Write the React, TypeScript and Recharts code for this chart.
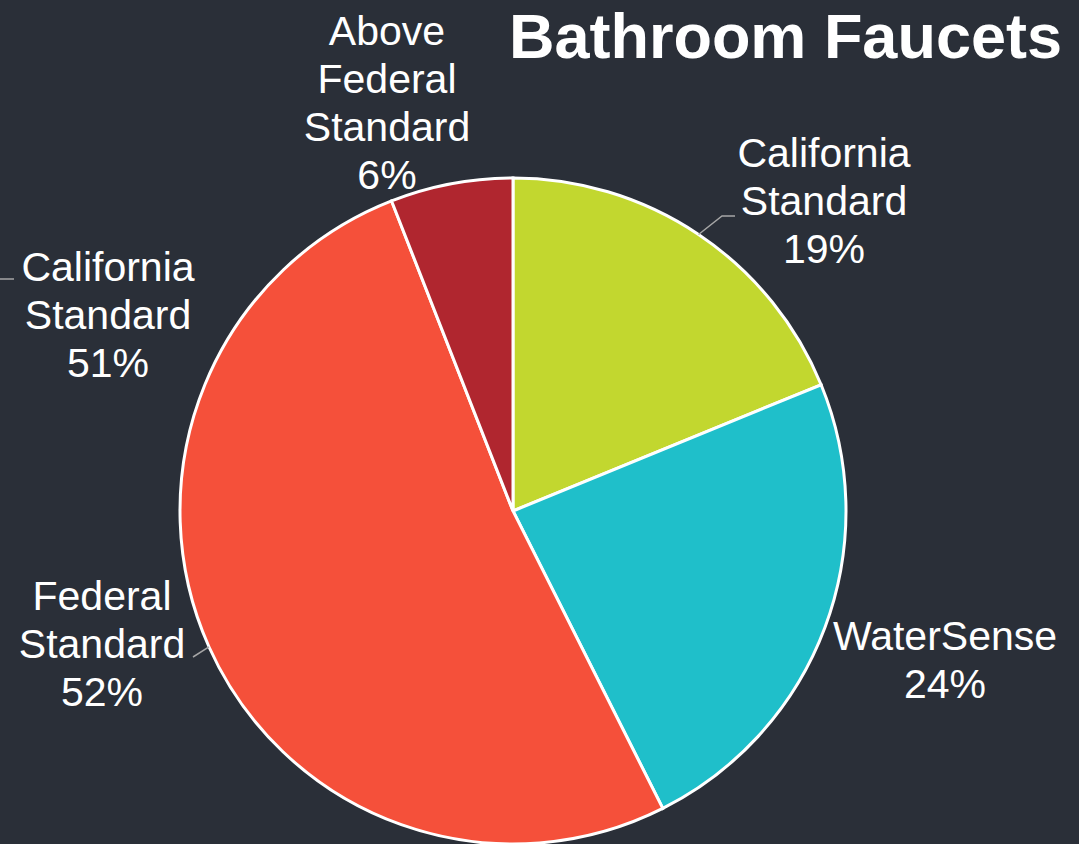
import { Pie, PieChart, Cell } from "recharts";

const categories = ["California\nStandard", "WaterSense", "Federal\nStandard", "Above\nFederal\nStandard"];
const shares = [19, 24, 52, 6];
const colors = ["#c2d72f", "#1fbfca", "#f5503a", "#b0262f"];

// stray label that has no slice in the source
const extraLabel = { text: "California\nStandard", value: 51 };

const W = 1079;
const H = 844;
const CX = 513;
const CY = 511;
const R = 333;
const LINE_H = 48;
const FONT = "'Liberation Sans', Arial, sans-serif";

// label anchor (center x, first baseline) relative to pie center
const labelPos = [
	{ dx: 311, dy: -344 },
	{ dx: 432, dy: 139 },
	{ dx: -411, dy: 99 },
	{ dx: -126, dy: -466 },
];

// leader line points after the slice edge, relative to pie center
const leaders: Record<number, [number, number][]> = {
	0: [
		[209, -295],
		[222, -295],
	],
	2: [[-320, 146]],
};

const data = categories.map((name, i) => ({ name, value: shares[i] }));

const RAD = Math.PI / 180;

function renderLabel(props: any) {
	const { cx, cy, midAngle, outerRadius, index } = props;
	const pos = labelPos[index];
	const lines = [...categories[index].split("\n"), `${shares[index]}%`];
	const x = cx + pos.dx;
	const y0 = cy + pos.dy;
	const ex = cx + outerRadius * Math.cos(-midAngle * RAD);
	const ey = cy + outerRadius * Math.sin(-midAngle * RAD);
	const pts = leaders[index];
	return (
		<g key={`lbl-${index}`}>
			{pts && (
				<polyline
					points={[[ex, ey], ...pts.map(([dx, dy]) => [cx + dx, cy + dy])].map((p) => p.join(",")).join(" ")}
					fill="none"
					stroke="#a6a6a6"
					strokeWidth={1.5}
				/>
			)}
			<text x={x} y={y0} fill="#ffffff" textAnchor="middle" fontSize={41} fontFamily={FONT}>
				{lines.map((l, i) => (
					<tspan key={i} x={x} y={y0 + i * LINE_H}>
						{l}
					</tspan>
				))}
			</text>
		</g>
	);
}

export default function App() {
	const extraLines = [...extraLabel.text.split("\n"), `${extraLabel.value}%`];
	return (
		<div style={{ position: "absolute", left: 0, top: 0, width: W, height: H, background: "#2a2f38", overflow: "hidden" }}>
			<PieChart width={W} height={H} margin={{ top: 0, right: 0, bottom: 0, left: 0 }}>
				<Pie
					data={data}
					dataKey="value"
					nameKey="name"
					cx={CX}
					cy={CY}
					outerRadius={R}
					startAngle={90}
					endAngle={-270}
					stroke="#ffffff"
					strokeWidth={3}
					label={renderLabel}
					labelLine={false}
					isAnimationActive={false}
				>
					{data.map((d, i) => (
						<Cell key={d.name} fill={colors[i]} />
					))}
				</Pie>
			</PieChart>
			<svg width={W} height={H} style={{ position: "absolute", left: 0, top: 0, pointerEvents: "none" }}>
				<line x1={0} y1={279} x2={14} y2={279} stroke="#a6a6a6" strokeWidth={1.5} />
				<text x={108} y={281} fill="#ffffff" textAnchor="middle" fontSize={41} fontFamily={FONT}>
					{extraLines.map((l, i) => (
						<tspan key={i} x={108} y={281 + i * LINE_H}>
							{l}
						</tspan>
					))}
				</text>
				<text x={1062} y={58} fill="#ffffff" textAnchor="end" fontSize={63} fontWeight="bold" fontFamily={FONT}>
					Bathroom Faucets
				</text>
			</svg>
		</div>
	);
}
